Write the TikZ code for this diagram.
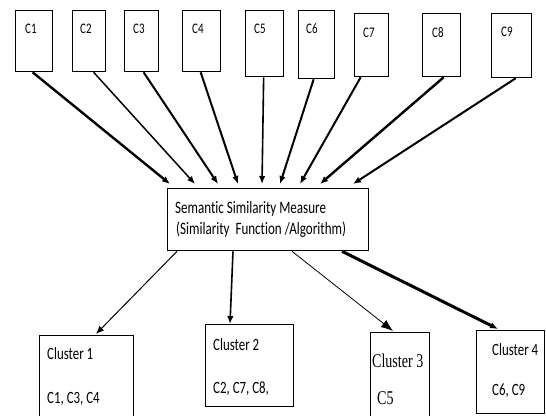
\documentclass[tikz,border=0pt]{standalone}
\usepackage{fontspec}
\setmainfont{Carlito}[FakeStretch=0.75,Ligatures=NoCommon]
\newfontfamily\serifsq{Liberation Serif}[FakeStretch=0.72]
\usetikzlibrary{arrows.meta}
\tikzset{
  box/.style={draw, line width=1.3pt, inner sep=0pt, anchor=north west},
  lbl/.style={anchor=base west, inner sep=0pt, text=black},
  arr/.style={-{Latex[length=8pt,width=6.5pt]}},
  topf/.style={font=\fontsize{14.6}{16}\selectfont},
  midf/.style={font=\fontsize{17.4}{20}\selectfont},
  clf/.style={font=\fontsize{17.2}{20}\selectfont},
  tmf/.style={font=\serifsq\fontsize{19.5}{22}\selectfont}
}
\begin{document}
\begin{tikzpicture}[x=1pt,y=-1pt]
\useasboundingbox (0,0) rectangle (546,415);
\clip (0,0) rectangle (546,415);
% top boxes
\node[box, minimum width=37pt, minimum height=61pt] (c1) at (15,10) {};
\node[box, minimum width=33pt, minimum height=61pt] (c2) at (72,10) {};
\node[box, minimum width=34pt, minimum height=61pt] (c3) at (124,10) {};
\node[box, minimum width=38pt, minimum height=61pt] (c4) at (182,10) {};
\node[box, minimum width=38pt, minimum height=66pt] (c5) at (245,10) {};
\node[box, minimum width=36pt, minimum height=68pt] (c6) at (298,10) {};
\node[box, minimum width=34pt, minimum height=63pt] (c7) at (354,13) {};
\node[box, minimum width=38pt, minimum height=63pt] (c8) at (422,13) {};
\node[box, minimum width=40pt, minimum height=64pt] (c9) at (491,13) {};
\node[lbl, topf] (t1) at (25,33) {C1};
\node[lbl, topf] (t2) at (80,33) {C2};
\node[lbl, topf] (t3) at (133,33) {C3};
\node[lbl, topf] (t4) at (192,33) {C4};
\node[lbl, topf] (t5) at (254,33) {C5};
\node[lbl, topf] (t6) at (306,33) {C6};
\node[lbl, topf] (t7) at (363,37) {C7};
\node[lbl, topf] (t8) at (432,37) {C8};
\node[lbl, topf] (t9) at (501,36) {C9};
% middle box
\node[box, minimum width=201pt, minimum height=62pt] (m) at (167,188) {};
\node[lbl, midf] (mt1) at (175,213) {Semantic Similarity Measure};
\node[lbl, midf] (mt2) at (176,234) {(Similarity\ \ Function /Algorithm)};
% clusters
\node[box, minimum width=94pt, minimum height=100pt] (k1) at (39,335) {};
\node[box, minimum width=88pt, minimum height=82pt] (k2) at (205,324) {};
\node[box, minimum width=59pt, minimum height=100pt] (k3) at (370,332) {};
\node[box, minimum width=68pt, minimum height=83pt] (k4) at (476,330) {};
\node[lbl, clf] (k1a) at (47,359) {Cluster 1};
\node[lbl, clf] (k1b) at (47,403) {C1, C3, C4};
\node[lbl, clf] (k2a) at (213,350) {Cluster 2};
\node[lbl, clf] (k2b) at (213,393) {C2, C7, C8,};
\node[lbl, tmf] (k3a) at (372,367) {Cluster 3};
\node[lbl, tmf] (k3b) at (377,404) {C5};
\node[lbl, clf] (k4a) at (492,355) {Cluster 4};
\node[lbl, clf] (k4b) at (492,395) {C6, C9};
% top arrows
\draw[arr, line width=2.4pt] ([xshift=-1.5pt]c1.south) -- ([xshift=3pt,yshift=4pt]m.north west);
\draw[arr, line width=1.5pt] ([xshift=4.5pt]c2.south) -- ([xshift=28pt,yshift=4pt]m.north west);
\draw[arr, line width=2pt] ([xshift=2pt]c3.south) -- ([xshift=51pt,yshift=4pt]m.north west);
\draw[arr, line width=2pt] ([xshift=-1pt]c4.south) -- ([xshift=71pt,yshift=4pt]m.north west);
\draw[arr, line width=1.6pt] ([xshift=-1pt]c5.south) -- ([xshift=95pt,yshift=4pt]m.north west);
\draw[arr, line width=2pt] ([xshift=-3pt]c6.south) -- ([xshift=113pt,yshift=4pt]m.north west);
\draw[arr, line width=2pt] ([xshift=-11pt]c7.south) -- ([xshift=133pt,yshift=4pt]m.north west);
\draw[arr, line width=2.4pt] ([xshift=2pt]c8.south) -- ([xshift=153pt,yshift=4pt]m.north west);
\draw[arr, line width=2pt] ([xshift=4pt]c9.south) -- ([xshift=186pt,yshift=4pt]m.north west);
% bottom arrows
\draw[arr, line width=1pt] ([xshift=10pt]m.south west) -- ([xshift=57pt,yshift=1pt]k1.north west);
\draw[arr, line width=1.6pt] ([xshift=66pt]m.south west) -- ([xshift=25pt]k2.north west);
\draw[-{Latex[length=12pt,width=9pt]}, line width=0.8pt] ([xshift=125pt]m.south west) -- ([xshift=23pt,yshift=1pt]k3.north west);
\draw[arr, line width=3pt] ([xshift=175pt]m.south west) -- ([xshift=22pt,yshift=1pt]k4.north west);
\end{tikzpicture}
\end{document}
